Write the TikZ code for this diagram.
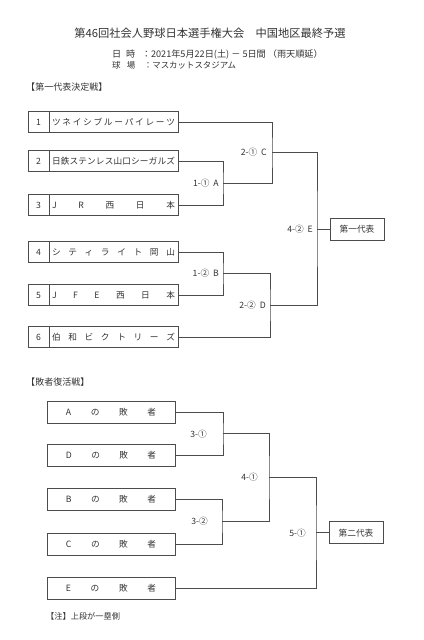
\documentclass[tikz,border=0pt]{standalone}
\usepackage{fontspec}
\setmainfont{Noto Sans CJK JP}
\usetikzlibrary{positioning}

% spread the letters of a name over a given width
\makeatletter
\newcommand{\spaced}[2]{\makebox[#1][s]{\spaced@loop#2\relax}}
\def\spaced@loop#1#2{#1\ifx\relax#2\else\hfill\expandafter\spaced@loop\expandafter#2\fi}
\makeatother

\begin{document}
\begin{tikzpicture}[x=0.03cm, y=-0.03cm,
    every node/.style={text=black!80, font=\fontsize{7.4}{8.5}\selectfont},
    cell/.style={draw=black!70, line width=0.6pt, inner sep=0pt, outer sep=0pt},
    numcell/.style={cell, minimum width=0.63cm, minimum height=0.63cm},
    teamcell/.style={cell, minimum width=3.87cm, minimum height=0.63cm},
    losercell/.style={cell, minimum width=3.84cm, minimum height=0.66cm},
    repcell/.style={cell, minimum width=1.62cm, minimum height=0.66cm},
    game/.style={anchor=east, inner sep=0pt},
    bracket/.style={draw=black!70, line width=0.6pt}]
    \useasboundingbox (0,0) rectangle (424,640);

    % Heading
    \node[font=\fontsize{9.6}{11}\selectfont] (title) at (210,33) {第46回社会人野球日本選手権大会　中国地区最終予選};
    \node[anchor=west, inner sep=0pt, font=\fontsize{7.8}{9}\selectfont] (date) at (112,54) {\makebox[0.69cm][s]{日\hfill 時}\hspace{0.2cm}：2021年5月22日(土) － 5日間 （雨天順延）};
    \node[anchor=west, inner sep=0pt, font=\fontsize{7.2}{8.5}\selectfont] (park) at (112,65) {\makebox[0.69cm][s]{球\hfill 場}\hspace{0.26cm}：マスカットスタジアム};

    % First representative
    \node[anchor=west, inner sep=0pt, font=\fontsize{7.7}{9}\selectfont] (head1) at (26,87) {【第一代表決定戦】};

    \node[numcell] (n1) at (38.5,122) {1};
    \node[teamcell, right=0pt of n1] (t1) {\spaced{3.69cm}{ツネイシブルーパイレーツ}};
    \node[numcell] (n2) at (38.5,161) {2};
    \node[teamcell, right=0pt of n2] (t2) {\spaced{3.69cm}{日鉄ステンレス山口シーガルズ}};
    \node[numcell] (n3) at (38.5,205) {3};
    \node[teamcell, right=0pt of n3] (t3) {\spaced{3.69cm}{JR西日本}};
    \node[numcell] (n4) at (38.5,252) {4};
    \node[teamcell, right=0pt of n4] (t4) {\spaced{3.69cm}{シティライト岡山}};
    \node[numcell] (n5) at (38.5,295) {5};
    \node[teamcell, right=0pt of n5] (t5) {\spaced{3.69cm}{JFE西日本}};
    \node[numcell] (n6) at (38.5,337) {6};
    \node[teamcell, right=0pt of n6] (t6) {\spaced{3.69cm}{伯和ビクトリーズ}};

    \coordinate (A) at (223,183);
    \coordinate (C) at (272,152.5);
    \coordinate (B) at (223,273.5);
    \coordinate (D) at (270,305);
    \coordinate (E) at (317,229);
    \draw[bracket] (t2.east) -| (A) |- (t3.east);
    \draw[bracket] (t1.east) -| (C) |- (A);
    \draw[bracket] (t4.east) -| (B) |- (t5.east);
    \draw[bracket] (B) -| (D) |- (t6.east);
    \draw[bracket] (C) -| (E) |- (D);

    \node[game] (gA) at (219,183) {1-①\ \ A};
    \node[game] (gC) at (267,152.5) {2-①\ \ C};
    \node[game] (gB) at (219,273.5) {1-②\ \ B};
    \node[game] (gD) at (266,305) {2-②\ \ D};
    \node[game] (gE) at (313,229) {4-②\ \ E};

    \node[repcell] (rep1) at (357,229) {第一代表};
    \draw[bracket] (E) -- (rep1.west);

    % Repechage
    \node[anchor=west, inner sep=0pt, font=\fontsize{7.7}{9}\selectfont] (head2) at (26,382) {【敗者復活戦】};

    \node[losercell] (lossA) at (111,412) {\spaced{2.7cm}{Aの敗者}};
    \node[losercell] (lossD) at (111,455.5) {\spaced{2.7cm}{Dの敗者}};
    \node[losercell] (lossB) at (111,499) {\spaced{2.7cm}{Bの敗者}};
    \node[losercell] (lossC) at (111,544) {\spaced{2.7cm}{Cの敗者}};
    \node[losercell] (lossE) at (111,588) {\spaced{2.7cm}{Eの敗者}};

    \coordinate (G31) at (223,433.75);
    \coordinate (G32) at (222,521.5);
    \coordinate (G41) at (269,477.6);
    \coordinate (G51) at (316,532.8);
    \draw[bracket] (lossA.east) -| (G31) |- (lossD.east);
    \draw[bracket] (lossB.east) -| (G32) |- (lossC.east);
    \draw[bracket] (G31) -| (G41) |- (G32);
    \draw[bracket] (G41) -| (G51) |- (lossE.east);

    \node[game] (g31) at (207,433.75) {3-①};
    \node[game] (g32) at (208,521.5) {3-②};
    \node[game] (g41) at (258,477.6) {4-①};
    \node[game] (g51) at (306,532.8) {5-①};

    \node[repcell] (rep2) at (356,532.8) {第二代表};
    \draw[bracket] (G51) -- (rep2.west);

    \node[anchor=west, inner sep=0pt, font=\fontsize{7}{8}\selectfont] (note) at (46,616) {【注】上段が一塁側};
\end{tikzpicture}
\end{document}
